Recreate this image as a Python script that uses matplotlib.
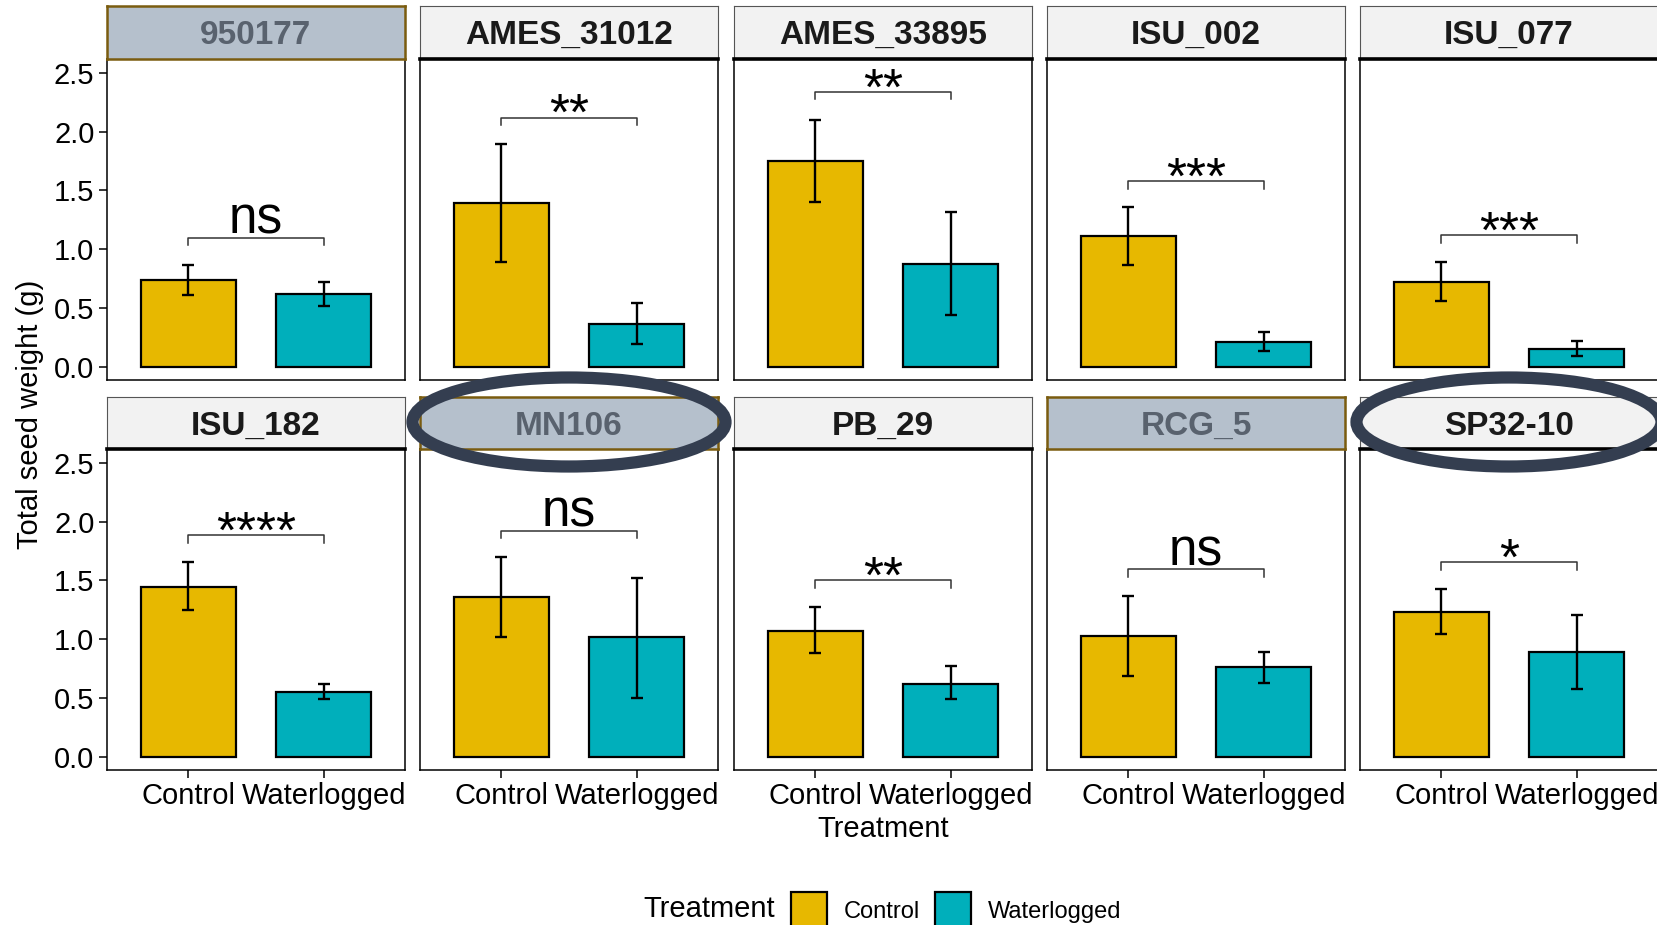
import numpy as np
import matplotlib
matplotlib.use('Agg')
import matplotlib.pyplot as plt
from matplotlib.patches import Ellipse, Patch

plt.rcParams['font.family'] = ['Liberation Sans', 'DejaVu Sans']

# data
genotypes = ['950177', 'AMES_31012', 'AMES_33895', 'ISU_002', 'ISU_077',
             'ISU_182', 'MN106', 'PB_29', 'RCG_5', 'SP32-10']
treatments = ['Control', 'Waterlogged']

control_mean = [0.74, 1.39, 1.75, 1.11, 0.72, 1.44, 1.355, 1.07, 1.025, 1.235]
control_lo = [0.61, 0.89, 1.40, 0.866, 0.56, 1.245, 1.02, 0.885, 0.686, 1.048]
control_hi = [0.867, 1.895, 2.10, 1.36, 0.89, 1.66, 1.70, 1.27, 1.366, 1.423]

water_mean = [0.617, 0.36, 0.875, 0.21, 0.153, 0.55, 1.014, 0.62, 0.763, 0.888]
water_lo = [0.514, 0.19, 0.44, 0.135, 0.09, 0.487, 0.50, 0.487, 0.626, 0.578]
water_hi = [0.72, 0.54, 1.32, 0.29, 0.217, 0.62, 1.52, 0.767, 0.894, 1.204]

sig_labels = ['ns', '**', '**', '***', '***', '****', 'ns', '**', 'ns', '*']
sig_y = [1.097, 2.12, 2.34, 1.58, 1.12, 1.886, 1.925, 1.50, 1.594, 1.654]

highlighted = ['950177', 'MN106', 'RCG_5']
circled = ['MN106', 'SP32-10']

yticks = [0.0, 0.5, 1.0, 1.5, 2.0, 2.5]

col_control = '#E7B800'
col_water = '#00AFBB'

W, H = 1658, 925
fig = plt.figure(figsize=(W / 100, H / 100), dpi=100)


def px_rect(x0, y0, x1, y1):
    return [x0 / W, 1 - y1 / H, (x1 - x0) / W, (y1 - y0) / H]


col_left = [107, 420, 734, 1047, 1360]
panel_w = 298
rows = [(6, 59, 380), (397, 449, 770)]

for i, g in enumerate(genotypes):
    r, c = divmod(i, 5)
    st, pt, pb = rows[r]
    x0 = col_left[c]
    ax = fig.add_axes(px_rect(x0, pt, x0 + panel_w, pb))
    sax = fig.add_axes(px_rect(x0, st, x0 + panel_w, pt))

    means = [control_mean[i], water_mean[i]]
    err = [[control_mean[i] - control_lo[i], water_mean[i] - water_lo[i]],
           [control_hi[i] - control_mean[i], water_hi[i] - water_mean[i]]]
    x = np.arange(2)
    ax.bar(x, means, width=0.7, color=[col_control, col_water],
           edgecolor='black', linewidth=1.6, yerr=err, capsize=4,
           error_kw=dict(elinewidth=1.7, capthick=1.7, ecolor='black'))

    # significance bracket
    y = sig_y[i]
    tip = 0.065
    ax.plot([0, 0, 1, 1], [y - tip, y, y, y - tip], color='#333333', lw=1.1)
    off = 3 if sig_labels[i] == 'ns' else -9
    ax.annotate(sig_labels[i], xy=(0.5, y), xytext=(0, off),
                textcoords='offset points', ha='center', va='baseline',
                fontsize=37, color='black')

    ax.set_xlim(-0.6, 1.6)
    ax.set_ylim(-0.115, 2.62)
    ax.set_xticks(x)
    ax.set_xticklabels(treatments)
    ax.set_yticks(yticks)
    ax.set_yticklabels(['%.1f' % v for v in yticks])
    ax.tick_params(direction='out', length=6, width=1.1, labelsize=21,
                   colors='black', pad=3)
    if c != 0:
        ax.tick_params(left=False, labelleft=False)
    if r == 0:
        ax.tick_params(bottom=False, labelbottom=False)
    for s in ax.spines.values():
        s.set_linewidth(1.1)
        s.set_color('black')

    # facet strip
    sax.set_xticks([])
    sax.set_yticks([])
    if g in highlighted:
        sax.set_facecolor('#B5C0CC')
        for s in sax.spines.values():
            s.set_color('#7A5C0F')
            s.set_linewidth(1.8)
        tcol = '#59626E'
    else:
        sax.set_facecolor('#F2F2F2')
        for s in sax.spines.values():
            s.set_color('#555555')
            s.set_linewidth(0.8)
        sax.spines['bottom'].set_color('black')
        sax.spines['bottom'].set_linewidth(2.6)
        tcol = '#1A1A1A'
    sax.text(0.5, 0.44, g, ha='center', va='center', fontsize=24,
             fontweight='bold', color=tcol, transform=sax.transAxes)

# circles drawn around two strips
ell_specs = {'MN106': (569, 422, 313, 89), 'SP32-10': (1509, 422, 305, 89)}
for g in circled:
    cx, cy, ew, eh = ell_specs[g]
    fig.add_artist(Ellipse((cx / W, 1 - cy / H), ew / W, eh / H,
                           transform=fig.transFigure, fill=False,
                           edgecolor='#343E50', lw=8.8, zorder=10))

fig.text(30 / W, 1 - 414 / H, 'Total seed weight (g)', rotation=90,
         ha='center', va='center', fontsize=21)
fig.text(883 / W, 1 - 829 / H, 'Treatment', ha='center', va='center',
         fontsize=21)

# legend
handles = [Patch(facecolor=col_control, edgecolor='black', lw=1.6, label=treatments[0]),
           Patch(facecolor=col_water, edgecolor='black', lw=1.6, label=treatments[1])]
fig.legend(handles=handles, loc='center left', bbox_to_anchor=(791 / W, 1 - 910 / H),
           ncol=2, frameon=False, fontsize=17, handlelength=1.52,
           handleheight=1.97, handletextpad=0.72, columnspacing=0.64,
           borderpad=0, borderaxespad=0)
fig.text(775 / W, 1 - 909 / H, 'Treatment', ha='right', va='center', fontsize=21)

fig.savefig('out.png', dpi=100)
